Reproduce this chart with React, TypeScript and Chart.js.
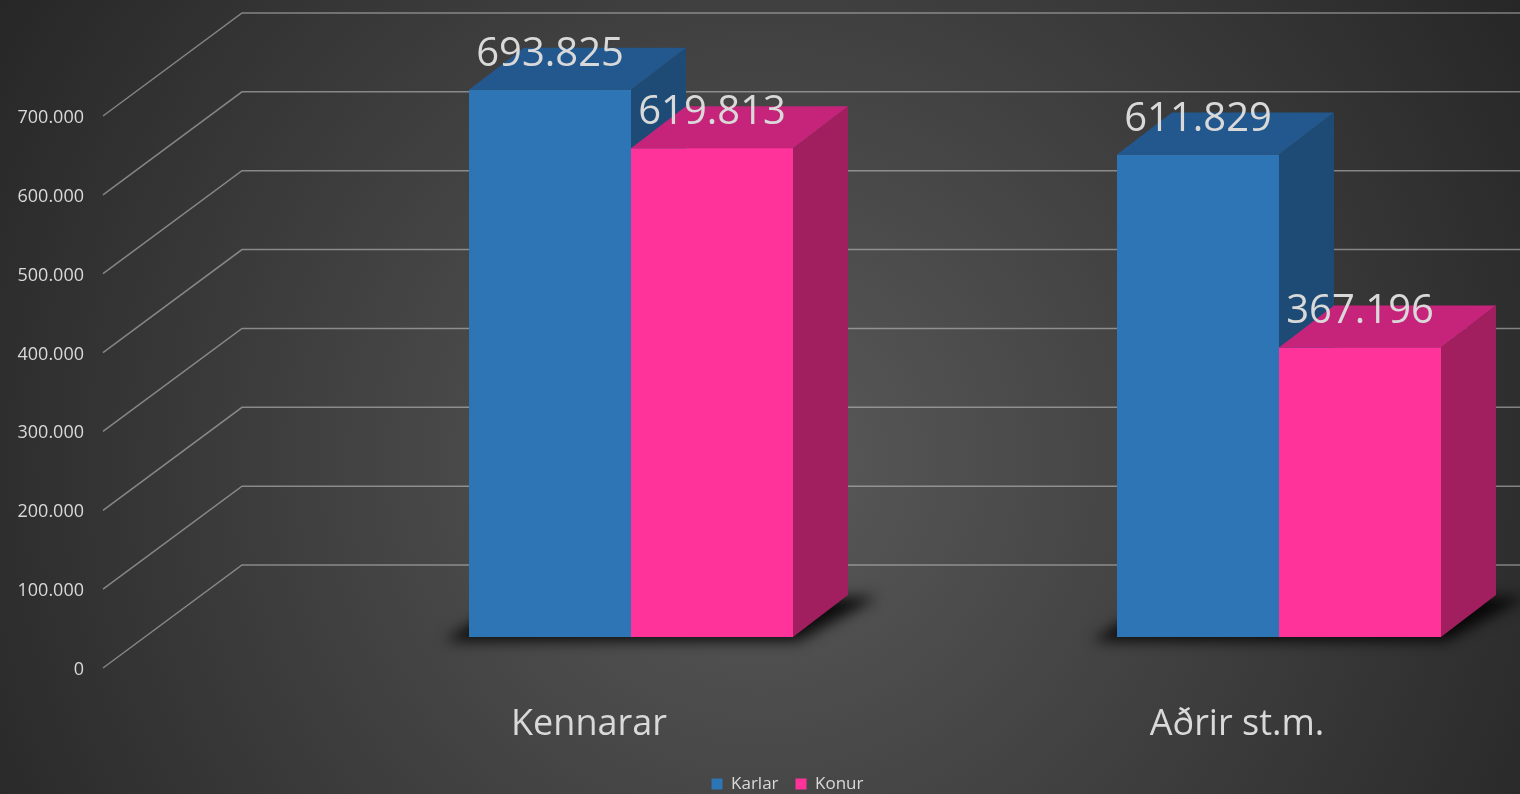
import React, { useEffect, useRef } from 'react';
import { Chart, registerables } from 'chart.js';

Chart.register(...registerables);

// ---- data ----
const CATEGORIES = ['Kennarar', 'Aðrir st.m.'];
const SERIES_NAMES = ['Karlar', 'Konur'];
const KARLAR = [693825, 611829];
const KONUR = [619813, 367196];
const SERIES_VALUES = [KARLAR, KONUR];
const Y_TICKS = [0, 100000, 200000, 300000, 400000, 500000, 600000, 700000];

// ---- styles ----
const FRONT_COLORS = ['#2E75B6', '#FF3399'];
const TOP_COLORS = ['#23588e', '#c6247a'];
const SIDE_COLORS = ['#1e4b76', '#a11f5f'];
const TEXT = '#d9d9d9';
const FONT = '"Open Sans", "DejaVu Sans", sans-serif';

// perspective offsets (pixels) relative to the bar front plane
const BAR_DEPTH = { dx: 55, dy: -42 };
const FRONT_PLANE = { dx: -42, dy: 31 };
const BACK_PLANE = { dx: 97, dy: -72 };
const WALL_POS = -0.75; // x-scale value of the left wall at the bar plane

const fmt = (v: number) => String(Math.round(v)).replace(/\B(?=(\d{3})+(?!\d))/g, '.');

function poly(ctx: CanvasRenderingContext2D, pts: number[][]) {
  ctx.beginPath();
  ctx.moveTo(pts[0][0], pts[0][1]);
  for (let i = 1; i < pts.length; i++) ctx.lineTo(pts[i][0], pts[i][1]);
  ctx.closePath();
  ctx.fill();
}

const threeDPlugin = {
  id: 'threeD',
  beforeDraw(chart: any) {
    const { ctx, width, height } = chart;
    const g = ctx.createRadialGradient(width / 2, height * 0.58, 0, width / 2, height * 0.58, 900);
    g.addColorStop(0, '#5a5a5a');
    g.addColorStop(1, '#262626');
    ctx.save();
    ctx.fillStyle = g;
    ctx.fillRect(0, 0, width, height);
    ctx.restore();
  },
  beforeDatasetsDraw(chart: any) {
    const { ctx } = chart;
    const xs = chart.scales.x;
    const ys = chart.scales.y;
    const wallX = xs.getPixelForValue(WALL_POS);
    ctx.save();
    // grid lines (front edge -> back wall -> right)
    ctx.strokeStyle = 'rgba(200,200,200,0.55)';
    ctx.lineWidth = 1.5;
    Y_TICKS.forEach((v) => {
      const py = ys.getPixelForValue(v);
      ctx.beginPath();
      ctx.moveTo(wallX + FRONT_PLANE.dx, py + FRONT_PLANE.dy);
      ctx.lineTo(wallX + BACK_PLANE.dx, py + BACK_PLANE.dy);
      ctx.lineTo(chart.width, py + BACK_PLANE.dy);
      ctx.stroke();
    });
    // y tick labels
    ctx.fillStyle = TEXT;
    ctx.font = `18px ${FONT}`;
    ctx.textAlign = 'right';
    ctx.textBaseline = 'alphabetic';
    Y_TICKS.forEach((v) => {
      const py = ys.getPixelForValue(v);
      ctx.fillText(fmt(v), wallX + FRONT_PLANE.dx - 19, py + FRONT_PLANE.dy + 7);
    });
    // category labels
    ctx.font = `36px ${FONT}`;
    ctx.textAlign = 'center';
    const y0 = ys.getPixelForValue(0);
    CATEGORIES.forEach((c, i) => {
      ctx.fillText(c, xs.getPixelForValue(i) + FRONT_PLANE.dx, y0 + FRONT_PLANE.dy + 67);
    });
    // floor shadows
    const m0 = chart.getDatasetMeta(0);
    const m1 = chart.getDatasetMeta(chart.data.datasets.length - 1);
    CATEGORIES.forEach((_, i) => {
      const a = m0.data[i].getProps(['x', 'base', 'width'], true);
      const b = m1.data[i].getProps(['x', 'base', 'width'], true);
      const left = a.x - a.width / 2;
      const right = b.x + b.width / 2;
      const base = a.base;
      ctx.save();
      ctx.filter = 'blur(7px)';
      ctx.fillStyle = 'rgba(0,0,0,0.85)';
      poly(ctx, [
        [left - 25, base + 4],
        [right + 5, base + 4],
        [right + BAR_DEPTH.dx + 30, base + BAR_DEPTH.dy + 2],
        [left + BAR_DEPTH.dx - 10, base + BAR_DEPTH.dy + 2],
      ]);
      ctx.restore();
    });
    ctx.restore();
  },
  afterDatasetsDraw(chart: any) {
    const { ctx } = chart;
    ctx.save();
    CATEGORIES.forEach((_, i) => {
      chart.data.datasets.forEach((_ds: any, d: number) => {
        const el = chart.getDatasetMeta(d).data[i];
        const { x, y, base, width } = el.getProps(['x', 'y', 'base', 'width'], true);
        const l = x - width / 2;
        const r = x + width / 2;
        if (d > 0) el.draw(ctx);
        ctx.fillStyle = SIDE_COLORS[d];
        poly(ctx, [[r, y], [r + BAR_DEPTH.dx, y + BAR_DEPTH.dy], [r + BAR_DEPTH.dx, base + BAR_DEPTH.dy], [r, base]]);
        ctx.fillStyle = TOP_COLORS[d];
        poly(ctx, [[l, y], [r, y], [r + BAR_DEPTH.dx, y + BAR_DEPTH.dy], [l + BAR_DEPTH.dx, y + BAR_DEPTH.dy]]);
      });
    });
    // value labels
    ctx.fillStyle = TEXT;
    ctx.font = `40px ${FONT}`;
    ctx.textAlign = 'center';
    ctx.textBaseline = 'alphabetic';
    SERIES_VALUES.forEach((vals, d) => {
      const meta = chart.getDatasetMeta(d);
      vals.forEach((v, i) => {
        const el = meta.data[i];
        const { x, y } = el.getProps(['x', 'y'], true);
        ctx.fillText(fmt(v), x, y - 24);
      });
    });
    ctx.restore();
  },
};

export default function App() {
  const canvasRef = useRef<HTMLCanvasElement | null>(null);

  useEffect(() => {
    const canvas = canvasRef.current;
    if (!canvas) return;
    const chart = new Chart(canvas, {
      type: 'bar',
      data: {
        datasets: SERIES_NAMES.map((name, d) => ({
          label: name,
          data: SERIES_VALUES[d].map((v, i) => ({ x: i, y: v })),
          backgroundColor: FRONT_COLORS[d],
          borderWidth: 0,
          categoryPercentage: 0.5,
          barPercentage: 1,
        })),
      },
      options: {
        responsive: false,
        animation: false,
        layout: { padding: { left: 55, right: 0, top: 85, bottom: -8.5 } },
        scales: {
          x: {
            type: 'linear',
            min: -0.88889,
            max: 1.37191,
            offset: false,
            ticks: { display: false, stepSize: 1, includeBounds: false },
            grid: { display: false },
            border: { display: false },
            afterFit: (s: any) => {
              s.height = 121.5;
            },
          },
          y: { display: false, min: 0, max: 700000 },
        },
        plugins: {
          legend: {
            position: 'bottom',
            labels: {
              color: TEXT,
              font: { family: FONT, size: 17 },
              boxWidth: 11,
              boxHeight: 11,
              padding: 17,
            },
          },
          tooltip: { enabled: false },
        },
      } as any,
      plugins: [threeDPlugin],
    });
    return () => chart.destroy();
  }, []);

  return (
    <div style={{ position: 'fixed', left: 0, top: 0, width: 1520, height: 794 }}>
      <canvas ref={canvasRef} width={1520} height={794} style={{ display: 'block' }} />
    </div>
  );
}
